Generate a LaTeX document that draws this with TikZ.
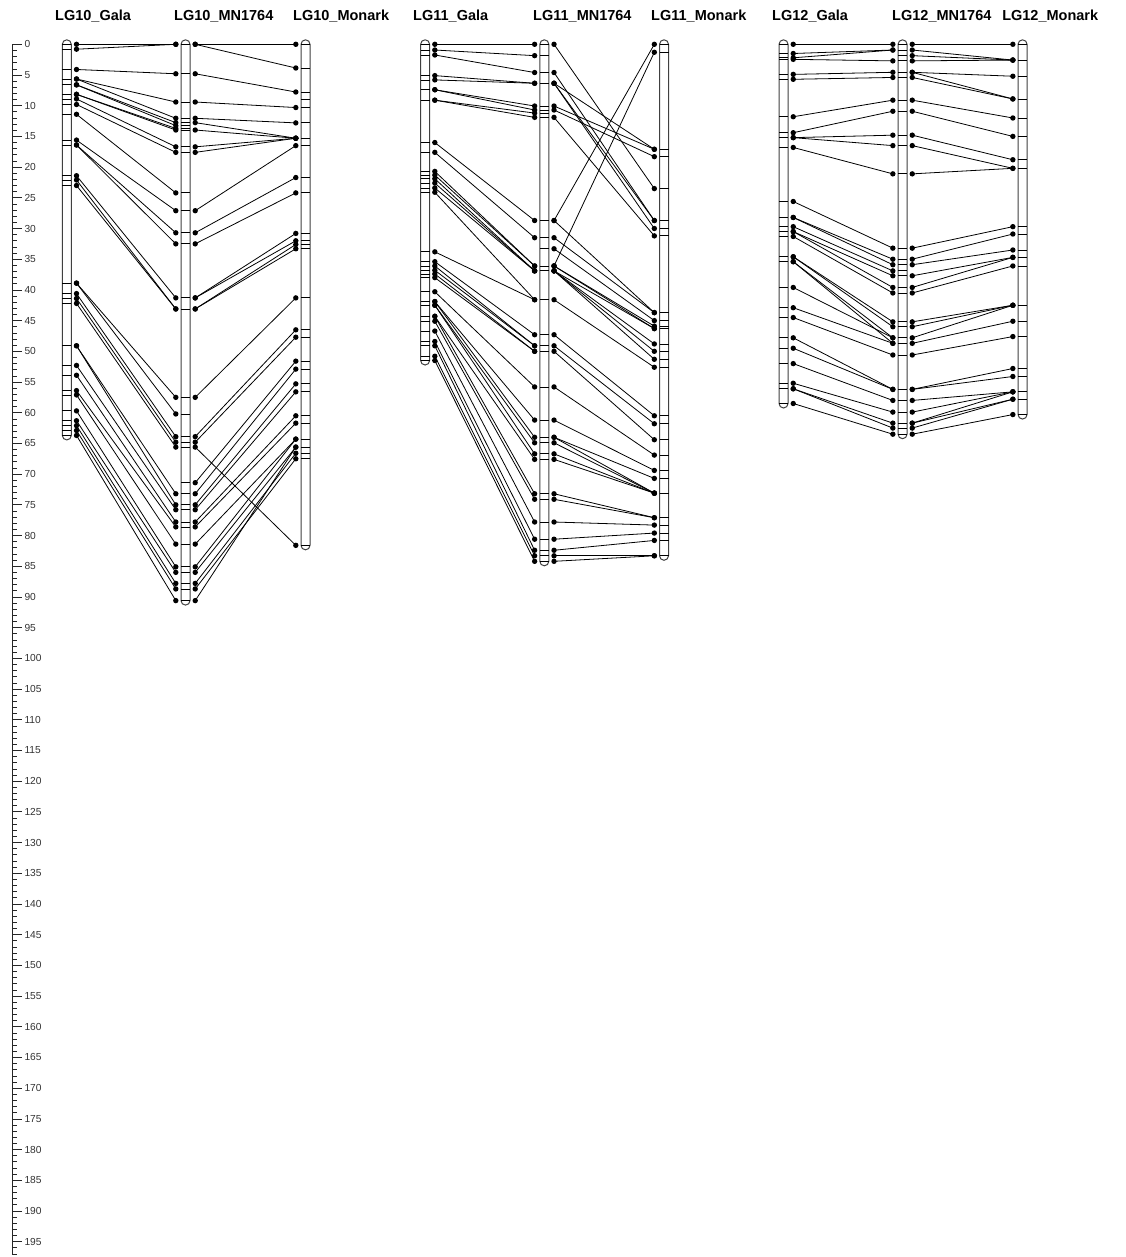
\documentclass[tikz,border=0pt]{standalone}
\usepackage{fontspec}
\setmainfont{Liberation Sans}
\usepackage{tikz}

% chromosome bar: centre x, last position (cM)
\newcommand{\chrom}[2]{%
  \draw[bar] (#1-4.5,0) -- (#1-4.5,#2) arc[start angle=180, end angle=360, radius=4.5pt]
    -- (#1+4.5,0) arc[start angle=0, end angle=180, radius=4.5pt] -- cycle;}
% links between two bars: left centre, right centre, list of pos/pos
\newcommand{\linkset}[3]{%
  \foreach \p/\q in {#3}{%
    \draw[link] (#1+9.7,\p) -- (#2-9.7,\q);
    \fill (#1+9.7,\p) circle[radius=2.7pt] (#2-9.7,\q) circle[radius=2.7pt];
    \draw[mk] (#1-4.5,\p) -- (#1+4.5,\p) (#2-4.5,\q) -- (#2+4.5,\q);
  }}

\begin{document}
\begin{tikzpicture}[
  x = 1pt, y = -6.14pt,
  bar/.style   = {draw=black!75, fill=white, line width=1pt},
  mk/.style    = {line width=0.8pt},
  link/.style  = {line width=0.8pt},
  axis/.style  = {line width=0.7pt, black!85},
  axlab/.style = {anchor=west, inner sep=0pt, text=black!80,
                  font=\fontsize{10.2}{12}\selectfont},
  title/.style = {anchor=base west, inner sep=0pt,
                  font=\bfseries\fontsize{14.5}{16}\selectfont}
]
\useasboundingbox (0,-7.215) rectangle (1125,197.5);

% Axis (cM)
\draw[axis] (12.7,0) -- (12.7,197.2);
\foreach \i in {0,...,197} \draw[axis] (12.7,\i) -- (16.7,\i);
\foreach \i in {0,5,...,195}{
  \draw[axis] (12.7,\i) -- (21.5,\i);
  \node[axlab] (ax\i) at (24.3,\i) {\i};
}

% Titles
\node[title] (t10g) at (55,-3.85)   {LG10\_Gala};
\node[title] (t10m) at (174,-3.85)  {LG10\_MN1764};
\node[title] (t10n) at (293,-3.85)  {LG10\_Monark};
\node[title] (t11g) at (413,-3.85)  {LG11\_Gala};
\node[title] (t11m) at (533,-3.85)  {LG11\_MN1764};
\node[title] (t11n) at (651,-3.85)  {LG11\_Monark};
\node[title] (t12g) at (772,-3.85)  {LG12\_Gala};
\node[title] (t12m) at (892,-3.85)  {LG12\_MN1764};
\node[title] (t12n) at (1002,-3.85) {LG12\_Monark};

% Bars
\chrom{66.8}{63.7}  \chrom{185.5}{90.6} \chrom{305.5}{81.6}
\chrom{425.1}{51.5} \chrom{544.3}{84.2} \chrom{664}{83.3}
\chrom{783.5}{58.5} \chrom{902.5}{63.5} \chrom{1022.5}{60.3}
\draw[mk] (301,8.9) -- (310,8.9);

% LG10
\linkset{66.8}{185.5}{0/0, 0.8/0, 4.1/4.8, 5.65/9.4, 5.65/12.05, 6.6/12.76,
  6.6/13.25, 8.15/13.7, 8.15/13.96, 8.9/16.7, 9.8/17.6, 11.4/24.2, 15.6/27.1,
  16.4/30.7, 16.4/32.5, 21.4/41.3, 22.1/43.1, 23.0/43.1, 38.9/57.5, 38.9/60.2,
  40.6/63.9, 41.4/64.8, 42.2/65.6, 49.1/73.2, 49.1/75.0, 52.3/75.8, 53.9/77.8,
  56.4/78.6, 57.1/81.4, 59.7/85.1, 61.3/86.0, 62.1/87.8, 62.9/88.7, 63.7/90.6}
\linkset{185.5}{305.5}{0/0, 0/3.86, 4.8/7.77, 9.4/10.3, 12.05/12.8, 12.76/15.3,
  13.96/15.3, 16.7/15.3, 17.6/15.3, 27.1/16.5, 30.7/21.7, 32.5/24.2, 41.3/30.8,
  41.3/32.0, 43.1/32.6, 43.1/33.3, 57.5/41.3, 63.9/46.5, 64.8/47.7, 65.6/81.6,
  71.4/51.6, 73.2/52.9, 75.0/55.3, 75.8/56.6, 77.8/60.5, 78.6/61.7, 81.4/64.3,
  85.1/64.3, 86.0/65.6, 87.8/66.6, 88.7/67.5, 90.6/65.6}

% LG11
\linkset{425.1}{544.3}{0/0, 0.93/1.85, 1.74/4.6, 5.1/6.35, 5.8/6.35, 7.4/10.05,
  7.4/10.7, 9.1/11.2, 9.1/11.9, 16.0/28.7, 17.6/31.5, 20.7/36.1, 21.3/36.1,
  21.9/36.9, 22.6/36.9, 23.4/36.9, 24.1/41.6, 33.8/41.6, 35.4/47.3, 36.1/49.1,
  36.8/49.1, 37.4/50.0, 38.0/50.0, 40.3/55.8, 41.9/61.2, 41.9/64.0, 42.5/64.9,
  42.5/66.7, 44.3/67.6, 44.3/73.2, 45.1/74.1, 46.7/77.8, 48.4/80.6, 49.1/82.4,
  50.8/83.3, 51.5/84.2}
\linkset{544.3}{664}{0/23.5, 4.6/28.7, 6.35/28.7, 6.35/30.0, 6.35/17.1,
  10.05/17.1, 10.7/18.3, 11.9/31.2, 28.7/0, 36.1/1.3, 28.7/43.7, 31.5/43.7,
  33.3/45.0, 36.1/45.9, 36.1/46.3, 36.9/46.3, 36.9/48.8, 36.9/50.0, 36.9/51.3,
  41.6/52.6, 47.3/60.5, 49.1/61.8, 50.0/64.4, 55.8/66.9, 61.2/69.4, 64.0/70.7,
  64.0/73.1, 64.9/73.1, 66.7/73.1, 67.6/73.1, 73.2/77.1, 74.1/77.1, 77.8/78.3,
  80.6/79.6, 82.4/80.8, 83.3/83.3, 84.2/83.3}

% LG12
\linkset{783.5}{902.5}{0/0, 1.5/0.93, 2.2/0.93, 2.45/2.7, 4.9/4.56, 5.7/5.4,
  11.8/9.1, 14.4/10.9, 15.2/14.8, 15.2/16.5, 16.8/21.1, 25.6/33.2, 28.2/35.0,
  28.2/35.9, 29.7/36.9, 30.5/37.7, 30.5/39.6, 31.3/40.5, 34.6/45.2, 34.6/46.0,
  35.4/47.8, 35.4/48.7, 39.6/47.8, 42.9/48.7, 44.5/50.6, 47.8/56.2, 49.5/56.2,
  52.0/58.0, 55.2/59.9, 56.1/61.7, 56.1/62.5, 58.5/63.5}
\linkset{902.5}{1022.5}{0/0, 0.93/2.57, 1.85/2.57, 2.7/2.57, 4.56/5.2, 4.56/8.9,
  5.4/8.9, 9.1/12.0, 10.9/15.0, 14.8/18.8, 16.5/20.2, 21.1/20.2, 33.2/29.7,
  35.0/30.9, 35.9/33.5, 37.7/34.7, 39.6/34.7, 40.5/36.1, 45.2/42.5, 46.0/42.5,
  47.8/42.5, 48.7/45.1, 50.6/47.6, 56.2/52.8, 56.2/54.1, 58.0/56.6, 59.9/56.6,
  61.7/56.6, 61.7/57.8, 62.5/57.8, 63.5/60.3}
\end{tikzpicture}
\end{document}
